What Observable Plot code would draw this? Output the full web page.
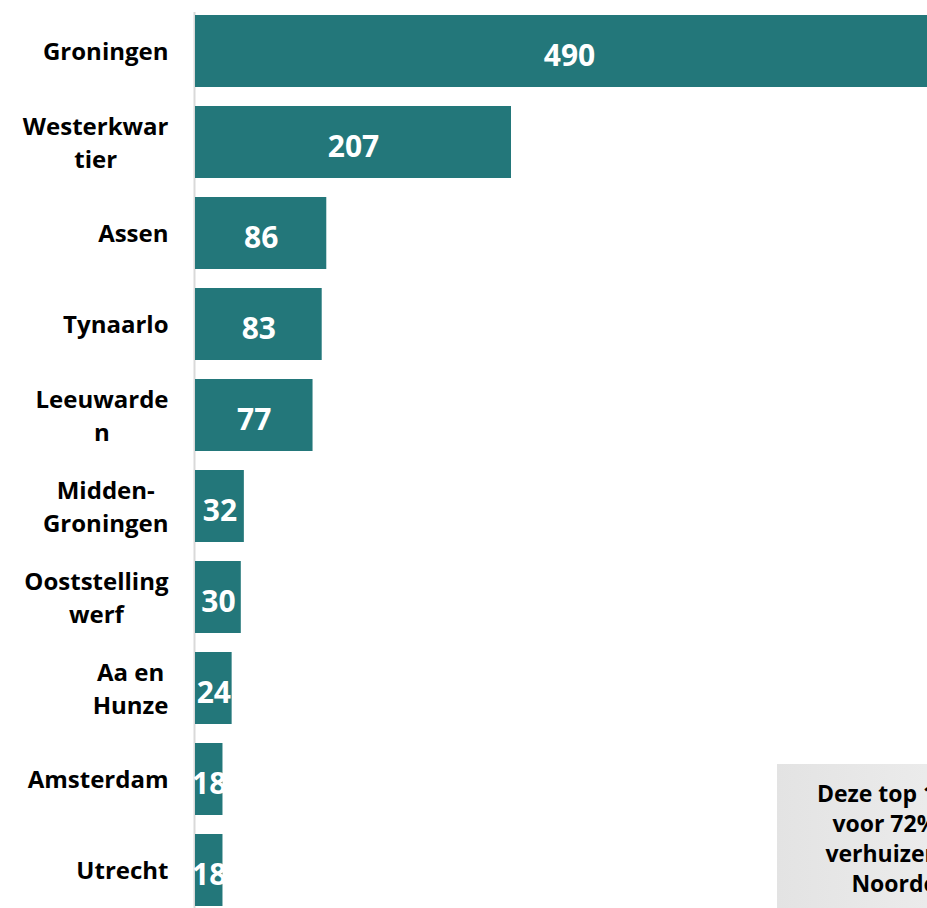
<!DOCTYPE html>
<html>
<head>
<meta charset="utf-8">
<script src="https://cdn.jsdelivr.net/npm/d3@7"></script>
<script src="https://cdn.jsdelivr.net/npm/@observablehq/plot@0.6"></script>
<style>
  html, body { margin: 0; padding: 0; background: #fff; }
  #wrap { position: relative; width: 927px; height: 908px; overflow: hidden; background: #fff; }
  #note {
    position: absolute; left: 777px; top: 764px; width: 298px; height: 170px;
    background: linear-gradient(to right, #e3e3e3, #f3f3f3);
    font-family: "Open Sans", Lato, sans-serif; font-weight: bold; font-size: 23px;
    line-height: 30px; text-align: center; color: #000; padding-top: 14px; box-sizing: border-box;
    white-space: nowrap;
  }
</style>
</head>
<body>
<div id="wrap"></div>
<script>
const categories = ["Groningen", "Westerkwartier", "Assen", "Tynaarlo", "Leeuwarden",
  "Midden-Groningen", "Ooststellingwerf", "Aa en Hunze", "Amsterdam", "Utrecht"];
const values = [490, 207, 86, 83, 77, 32, 30, 24, 18, 18];
const tickLabels = ["Groningen", "Westerkwar\ntier", "Assen", "Tynaarlo", "Leeuwarde\nn",
  "Midden-\nGroningen", "Ooststelling\nwerf", "Aa en\nHunze", "Amsterdam", "Utrecht"];
const noteLines = ["Deze top 10 is goed", "voor 72% van de", "verhuizers vanuit", "Noordenveld"];

const data = categories.map((c, i) => ({ name: c, value: values[i], label: tickLabels[i] }));

const chart = Plot.plot({
  width: 927,
  height: 908,
  marginLeft: 195,
  marginRight: 0,
  marginTop: 12,
  marginBottom: 0,
  style: { fontFamily: "'Open Sans', Lato, sans-serif", background: "transparent", overflow: "hidden" },
  x: { domain: [0, 490], range: [195, 943], axis: null },
  y: { domain: categories, range: [4.4, 916.4], paddingInner: 0.21, paddingOuter: 0.105, axis: null },
  marks: [
    Plot.ruleX([0], { stroke: "#d9d9d9", strokeWidth: 2, dx: -1 }),
    Plot.barX(data, { x: "value", y: "name", fill: "#23777a" }),
    Plot.text(data, {
      x: 0, y: "name", text: "label", textAnchor: "end", dx: -27, dy: -2,
      fontSize: 24, fontWeight: "bold", fill: "#000", lineHeight: 1.38, className: "ylab"
    }),
    Plot.text(data, {
      x: d => d.value / 2, y: "name", text: d => String(d.value), dy: 5,
      fontSize: 30, fontWeight: "bold", fill: "#fff", className: "vlab"
    })
  ]
});

const wrap = document.getElementById("wrap");
wrap.appendChild(chart);

// center multi-line tick labels on their widest line (as in the original)
d3.select(chart).selectAll("g.ylab text").each(function () {
  const tspans = this.querySelectorAll("tspan");
  if (tspans.length < 2) return;
  let maxW = 0;
  tspans.forEach(t => { maxW = Math.max(maxW, t.getComputedTextLength()); });
  this.setAttribute("text-anchor", "middle");
  tspans.forEach(t => t.setAttribute("x", -maxW / 2));
});

const note = document.createElement("div");
note.id = "note";
note.innerHTML = noteLines.join("<br>");
wrap.appendChild(note);
</script>
</body>
</html>
